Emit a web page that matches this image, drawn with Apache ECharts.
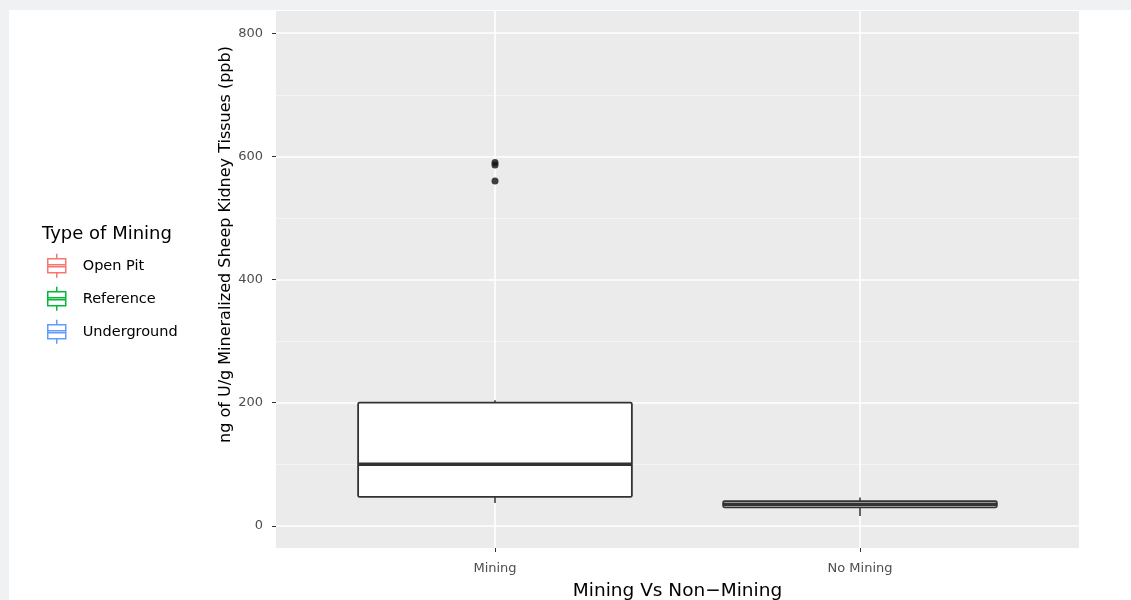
<!DOCTYPE html>
<html>
<head>
<meta charset="utf-8">
<script src="https://cdn.jsdelivr.net/npm/echarts@6/dist/echarts.min.js"></script>
<style>
html,body{margin:0;padding:0;background:#f0f1f3;}
#wrap{position:absolute;left:9px;top:10px;width:1122px;height:590px;background:#ffffff;}
#chart{position:absolute;left:-9px;top:-10px;width:1131px;height:600px;}
</style>
</head>
<body>
<div id="wrap"><div id="chart"></div></div>
<script>
// ---- data ----
const categories = ['Mining', 'No Mining'];
const whiskerLow = [37, 16];
const q1 = [47, 30];
const median = [100, 35];
const q3 = [200, 40];
const whiskerHigh = [204, 46];
const outlierCategory = ['Mining', 'Mining', 'Mining'];
const outlierValues = [590, 586, 560];
const yTicks = [0, 200, 400, 600, 800];
const yMinorTicks = [100, 300, 500, 700];
const legendNames = ['Open Pit', 'Reference', 'Underground'];
const legendColors = ['#F8766D', '#00BA38', '#619CFF'];

const catIdx = categories.map((c, i) => i);
const boxData = categories.map((c, i) => [i, whiskerLow[i], q1[i], median[i], q3[i], whiskerHigh[i]]);
const outlierData = outlierValues.map((v, i) => [categories.indexOf(outlierCategory[i]), v]);

const font = 'DejaVu Sans, Liberation Sans, sans-serif';
const chart = echarts.init(document.getElementById('chart'), null, {renderer: 'canvas'});

const gridLines = [];
yMinorTicks.forEach(v => gridLines.push({yAxis: v, lineStyle: {color: '#f6f6f6', width: 0.8, type: 'solid'}}));
yTicks.forEach(v => gridLines.push({yAxis: v, lineStyle: {color: '#ffffff', width: 1.6, type: 'solid'}}));
catIdx.forEach(i => gridLines.push({xAxis: i, lineStyle: {color: '#ffffff', width: 1.6, type: 'solid'}}));

const boxIcon = 'path://M10,0L10,5M1,5L19,5L19,19L1,19ZM1,11L19,11L19,13L1,13ZM10,19L10,24';

const series = [
  {
    type: 'line', data: [], silent: true, z: 1,
    markLine: {silent: true, symbol: 'none', label: {show: false}, animation: false, z: 1, data: gridLines}
  },
  {
    type: 'custom', z: 10,
    data: boxData,
    encode: {x: 0, y: [1, 2, 3, 4, 5]},
    renderItem: function (params, api) {
      const idx = api.value(0);
      const pLo = api.coord([idx, api.value(1)]);
      const pQ1 = api.coord([idx, api.value(2)]);
      const pMed = api.coord([idx, api.value(3)]);
      const pQ3 = api.coord([idx, api.value(4)]);
      const pHi = api.coord([idx, api.value(5)]);
      const bw = api.size([0.75, 0])[0];
      const cx = pMed[0];
      const stroke = '#333333';
      return {
        type: 'group',
        children: [
          {type: 'line', shape: {x1: cx, y1: pQ3[1], x2: cx, y2: pHi[1]}, style: {stroke: stroke, lineWidth: 1.5}},
          {type: 'line', shape: {x1: cx, y1: pQ1[1], x2: cx, y2: pLo[1]}, style: {stroke: stroke, lineWidth: 1.5}},
          {type: 'rect', shape: {x: cx - bw / 2, y: pQ3[1], width: bw, height: pQ1[1] - pQ3[1], r: 1.5},
            style: {fill: '#ffffff', stroke: stroke, lineWidth: 1.8}},
          {type: 'line', shape: {x1: cx - bw / 2, y1: pMed[1], x2: cx + bw / 2, y2: pMed[1]},
            style: {stroke: stroke, lineWidth: 3.4}}
        ]
      };
    }
  },
  {
    type: 'scatter', z: 11, data: outlierData, symbol: 'circle', symbolSize: 7,
    itemStyle: {color: '#111111'}
  }
];
legendNames.forEach((n, i) => series.push({
  type: 'boxplot', name: n, data: [], itemStyle: {color: '#ffffff', borderColor: legendColors[i]}
}));

chart.setOption({
  animation: false,
  backgroundColor: 'transparent',
  title: {
    text: 'Type of Mining', left: 37, top: 220,
    textStyle: {fontFamily: font, fontSize: 18, fontWeight: 'normal', color: '#000000'}
  },
  legend: {
    orient: 'vertical', left: 42, top: 248, itemWidth: 20, itemHeight: 24, itemGap: 7.5,
    selectedMode: false,
    textStyle: {fontFamily: font, fontSize: 14.5, color: '#000000', padding: [0, 0, 0, 11]},
    data: legendNames.map((n, i) => ({
      name: n, icon: boxIcon,
      itemStyle: {color: 'rgba(0,0,0,0)', borderColor: legendColors[i], borderWidth: 1.5}
    }))
  },
  grid: {left: 276, right: 52, top: 11, bottom: 52, show: true, backgroundColor: '#ebebeb', borderWidth: 0,
    containLabel: false, outerBoundsMode: 'none'},
  xAxis: {
    type: 'value', min: -0.6, max: 1.6,
    name: 'Mining Vs Non\u2212Mining', nameLocation: 'middle', nameGap: 34,
    nameTextStyle: {fontFamily: font, fontSize: 18.5, color: '#000000'},
    axisLine: {show: false, onZero: false},
    axisTick: {show: true, length: 4, lineStyle: {color: '#333333'}, customValues: catIdx},
    axisLabel: {fontFamily: font, fontSize: 13, color: '#4d4d4d', margin: 14, customValues: catIdx,
      formatter: v => categories[Math.round(v)]},
    splitLine: {show: false}
  },
  yAxis: {
    type: 'value', min: -36, max: 836,
    name: 'ng of U/g Mineralized Sheep Kidney Tissues (ppb)', nameLocation: 'middle', nameGap: 42,
    nameMoveOverlap: false,
    nameTextStyle: {fontFamily: font, fontSize: 16, color: '#000000', padding: [0, 0, 0, 70]},
    axisLine: {show: false, onZero: false},
    axisTick: {show: true, length: 4, lineStyle: {color: '#333333'}, customValues: yTicks},
    axisLabel: {fontFamily: font, fontSize: 13, color: '#4d4d4d', margin: 13, customValues: yTicks},
    splitLine: {show: false}
  },
  series: series
});
</script>
</body>
</html>
